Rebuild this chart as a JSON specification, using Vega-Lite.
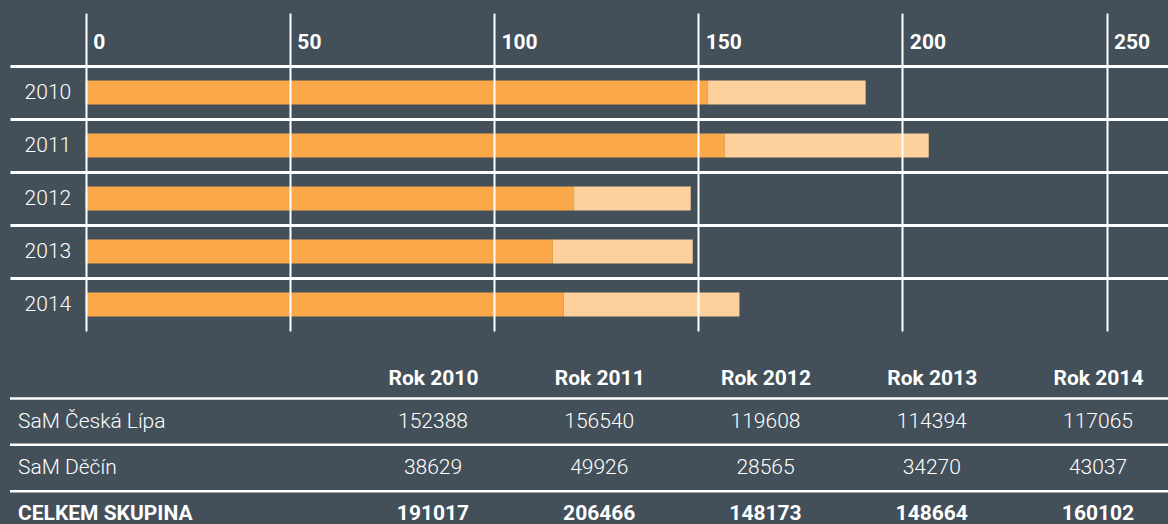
{
  "$schema": "https://vega.github.io/schema/vega-lite/v6.json",
  "background": "#434f59",
  "padding": {"left": 8, "top": 13, "right": 0, "bottom": 0},
  "config": {"view": {"stroke": null}, "font": "Roboto"},
  "spacing": 36.5,
  "data": {"values": [
    {"rok": "2010", "pobocka": "SaM Česká Lípa", "hodnota": 152388},
    {"rok": "2011", "pobocka": "SaM Česká Lípa", "hodnota": 156540},
    {"rok": "2012", "pobocka": "SaM Česká Lípa", "hodnota": 119608},
    {"rok": "2013", "pobocka": "SaM Česká Lípa", "hodnota": 114394},
    {"rok": "2014", "pobocka": "SaM Česká Lípa", "hodnota": 117065},
    {"rok": "2010", "pobocka": "SaM Děčín", "hodnota": 38629},
    {"rok": "2011", "pobocka": "SaM Děčín", "hodnota": 49926},
    {"rok": "2012", "pobocka": "SaM Děčín", "hodnota": 28565},
    {"rok": "2013", "pobocka": "SaM Děčín", "hodnota": 34270},
    {"rok": "2014", "pobocka": "SaM Děčín", "hodnota": 43037},
    {"rok": "2010", "pobocka": "CELKEM SKUPINA", "hodnota": 191017},
    {"rok": "2011", "pobocka": "CELKEM SKUPINA", "hodnota": 206466},
    {"rok": "2012", "pobocka": "CELKEM SKUPINA", "hodnota": 148173},
    {"rok": "2013", "pobocka": "CELKEM SKUPINA", "hodnota": 148664},
    {"rok": "2014", "pobocka": "CELKEM SKUPINA", "hodnota": 160102}
  ]},
  "vconcat": [
    {
      "width": 1158,
      "height": 318,
      "transform": [{"filter": "datum.pobocka != 'CELKEM SKUPINA'"}],
      "mark": {"type": "bar", "size": 24},
      "encoding": {
        "y": {
          "field": "rok", "type": "nominal",
          "scale": {"paddingInner": 0, "paddingOuter": 0.5, "align": 1},
          "axis": {
            "orient": "left", "title": null, "grid": true, "gridColor": "#ffffff", "gridWidth": 3, "gridOpacity": 1,
            "bandPosition": 0, "domain": false, "ticks": false, "tickSize": 0,
            "labelAlign": "right", "labelBaseline": "middle", "labelPadding": -60.7,
            "labelFont": "Roboto", "labelFontSize": 21, "labelFontWeight": 300, "labelColor": "#ffffff", "zindex": 1
          }
        },
        "x": {
          "field": "hodnota", "type": "quantitative", "stack": "zero",
          "scale": {"domain": [-18540, 265060], "nice": false, "zero": false},
          "axis": {
            "orient": "top", "title": null, "values": [0, 50000, 100000, 150000, 200000, 250000],
            "labelExpr": "(datum.value / 1000) + ''", "grid": true, "gridColor": "#ffffff", "gridWidth": 2, "gridOpacity": 1,
            "domain": false, "ticks": false, "tickSize": 0, "labelAlign": "left", "labelBaseline": "alphabetic",
            "labelPadding": -35.5, "labelOffset": 7, "labelFont": "Roboto", "labelFontWeight": "bold", "labelFontSize": 21,
            "labelColor": "#ffffff", "labelFlush": false, "labelOverlap": false, "zindex": 1
          }
        },
        "color": {
          "field": "pobocka", "type": "nominal",
          "scale": {"domain": ["SaM Česká Lípa", "SaM Děčín"], "range": ["#fba84a", "#fed09b"]},
          "legend": null
        },
        "order": {"field": "pobocka", "sort": "descending"}
      }
    },
    {
      "width": 1158,
      "height": 125,
      "encoding": {
        "x": {
          "field": "rok", "type": "nominal",
          "scale": {"type": "point", "range": [423, 1088], "padding": 0},
          "axis": {
            "orient": "top", "title": null, "labelExpr": "'Rok ' + datum.label", "domain": false, "ticks": false, "tickSize": 0,
            "labelPadding": 13.7, "labelBaseline": "alphabetic", "labelAngle": 0, "labelFont": "Roboto",
            "labelFontWeight": "bold", "labelFontSize": 21, "labelColor": "#ffffff", "grid": false
          }
        },
        "y": {
          "field": "pobocka", "type": "nominal",
          "scale": {"type": "band", "domain": ["SaM Česká Lípa", "SaM Děčín", "CELKEM SKUPINA"], "range": [0, 139], "paddingInner": 0, "paddingOuter": 0},
          "axis": {
            "orient": "left", "title": null, "grid": false, "domain": false, "ticks": false, "tickSize": 0,
            "labelAlign": "left", "labelBaseline": "middle", "labelPadding": -7.5,
            "labelFont": "Roboto", "labelFontSize": 21,
            "labelFontWeight": {"condition": {"test": "datum.value == 'CELKEM SKUPINA'", "value": "bold"}, "value": 300},
            "labelColor": "#ffffff", "labelLimit": 400, "zindex": 1
          }
        }
      },
      "layer": [
        {
          "transform": [{"filter": "datum.rok == '2010'"}],
          "mark": {"type": "rule", "color": "#ffffff", "strokeWidth": 2.5},
          "encoding": {
            "x": null,
            "y": {"field": "pobocka", "type": "nominal", "bandPosition": 0}
          }
        },
        {
          "transform": [{"filter": "datum.pobocka != 'CELKEM SKUPINA'"}],
          "mark": {"type": "text", "font": "Roboto", "fontSize": 21, "fontWeight": 300, "color": "#ffffff"},
          "encoding": {"text": {"field": "hodnota", "type": "quantitative", "format": "d"}}
        },
        {
          "transform": [{"filter": "datum.pobocka == 'CELKEM SKUPINA'"}],
          "mark": {"type": "text", "font": "Roboto", "fontSize": 21, "fontWeight": "bold", "color": "#ffffff"},
          "encoding": {"text": {"field": "hodnota", "type": "quantitative", "format": "d"}}
        }
      ]
    }
  ]
}
